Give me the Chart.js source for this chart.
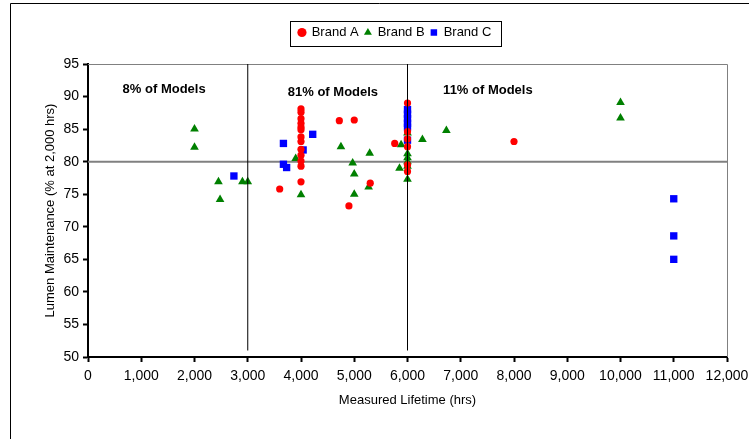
<!DOCTYPE html>
<html>
<head>
<meta charset="utf-8">
<title>Lumen Maintenance vs Measured Lifetime</title>
<script src="https://cdn.jsdelivr.net/npm/chart.js@4.4.1/dist/chart.umd.min.js"></script>
<style>
  html, body { margin: 0; padding: 0; background: #fff; }
  #wrap { width: 749px; height: 439px; }
</style>
</head>
<body>
<div id="wrap"><canvas id="lifeChart" width="749" height="439"></canvas></div>
<script>
// Brand A (red circles)
const brandAX = [3600, 4000, 4000, 4000, 4000, 4000, 4000, 4000, 4000, 4000, 4000, 4000, 4000, 4000,
                 4720, 5000, 4900, 5300, 5760, 6000, 6000, 6000, 6000, 6000, 6000, 8000];
const brandAY = [75.8, 88.1, 87.6, 86.6, 85.9, 85.3, 84.9, 83.8, 83.1, 81.9, 81.0, 80.1, 79.3, 76.9,
                 86.3, 86.4, 73.2, 76.7, 82.8, 89.0, 84.6, 83.5, 82.3, 79.5, 78.5, 83.1];

// Brand B (green triangles)
const brandBX = [2000, 2000, 2450, 2480, 2900, 3000, 3900, 4000, 4750, 4970, 5000, 5000, 5270, 5290,
                 5850, 5880, 6000, 6000, 6000, 6000, 6000, 6000, 6280, 6730, 10000, 10000];
const brandBY = [85.0, 82.2, 76.9, 74.2, 76.9, 76.9, 80.5, 74.9, 82.3, 79.8, 78.1, 75.0, 76.1, 81.3,
                 79.0, 82.6, 84.4, 81.2, 80.6, 80.0, 79.3, 77.3, 83.4, 84.8, 89.1, 86.7];

// Brand C (blue squares)
const brandCX = [2740, 3670, 3670, 3730, 4040, 4220, 6000, 6000, 6000, 6000, 6000, 6000, 11000, 11000, 11000];
const brandCY = [77.8, 82.8, 79.6, 79.1, 81.8, 84.2, 88.0, 87.3, 86.6, 85.9, 85.3, 83.3, 74.3, 68.6, 65.0];

// reference lines
const refLineY = 80;
const dividerX = [3000, 6000];
const dividerY = [51, 95];

// ticks
const xTickValues = [0, 1000, 2000, 3000, 4000, 5000, 6000, 7000, 8000, 9000, 10000, 11000, 12000];
const yTickValues = [50, 55, 60, 65, 70, 75, 80, 85, 90, 95];

// region notes
const noteLabels = ['8% of Models', '81% of Models', '11% of Models'];
const noteX = [1430, 4600, 7510];
const noteY = [91.1, 90.6, 90.9];

const FONT = '"Liberation Sans", Arial, sans-serif';

function toPoints(xs, ys) {
    return xs.map((x, i) => ({ x: x, y: ys[i] }));
}

const chartDecor = {
    id: 'chartDecor',
    beforeInit(chart) {
        // extra room between legend and plot
        const legend = chart.legend;
        const origFit = legend.fit;
        legend.fit = function () {
            origFit.call(legend);
            this.height += 15;
        };
    },
    afterLayout(chart) {
        const l = chart.legend;
        const shift = 395 - (l.left + l.right) / 2;
        l.left += shift;
        l.right += shift;
    },
    beforeDatasetsDraw(chart) {
        const { ctx, chartArea: a } = chart;
        ctx.save();
        ctx.lineWidth = 1;
        ctx.strokeStyle = '#808080';
        ctx.beginPath();
        ctx.moveTo(a.left, a.top + 0.5);
        ctx.lineTo(a.right + 0.5, a.top + 0.5);
        ctx.lineTo(a.right + 0.5, a.bottom);
        ctx.stroke();
        ctx.strokeStyle = '#000';
        ctx.beginPath();
        ctx.moveTo(10.5, chart.height);
        ctx.lineTo(10.5, 3.5);
        ctx.lineTo(chart.width, 3.5);
        ctx.stroke();
        ctx.restore();
    },
    afterDraw(chart) {
        const { ctx, scales } = chart;
        ctx.save();
        ctx.fillStyle = '#000';
        ctx.font = 'bold 13px ' + FONT;
        ctx.textAlign = 'center';
        ctx.textBaseline = 'middle';
        noteLabels.forEach((t, i) => {
            ctx.fillText(t, scales.x.getPixelForValue(noteX[i]), scales.y.getPixelForValue(noteY[i]));
        });

        // box round the legend
        const l = chart.legend;
        const pad = l.options.labels.padding;
        const w = l.lineWidths[0] - pad;
        const x0 = (l.left + pad + l.right - l.lineWidths[0]) / 2;
        const cy = l.top + pad + 7;
        ctx.strokeStyle = '#000';
        ctx.lineWidth = 1;
        ctx.strokeRect(Math.round(x0 - 9) + 0.5, Math.round(cy - 12.5) + 0.5, Math.round(w + 18), 25);
        ctx.restore();
    }
};

function createLifetimeChart() {
    const ctx = document.getElementById('lifeChart');
    if (!ctx) return;

    new Chart(ctx, {
        type: 'scatter',
        data: {
            datasets: [
                {
                    label: 'Brand A',
                    data: toPoints(brandAX, brandAY),
                    pointStyle: 'circle',
                    pointRadius: 3.6,
                    backgroundColor: '#ff0000',
                    borderColor: '#ff0000',
                    borderWidth: 0,
                    order: 5
                },
                {
                    label: 'Brand B',
                    data: toPoints(brandBX, brandBY),
                    pointStyle: 'triangle',
                    pointRadius: 5,
                    backgroundColor: '#008000',
                    borderColor: '#008000',
                    borderWidth: 0,
                    order: 5
                },
                {
                    label: 'Brand C',
                    data: toPoints(brandCX, brandCY),
                    pointStyle: 'rect',
                    pointRadius: 5.2,
                    backgroundColor: '#0000ff',
                    borderColor: '#0000ff',
                    borderWidth: 0,
                    order: 5
                },
                {
                    label: '',
                    data: [{ x: xTickValues[0], y: refLineY }, { x: xTickValues[xTickValues.length - 1], y: refLineY }],
                    showLine: true,
                    pointRadius: 0,
                    borderColor: '#808080',
                    borderWidth: 2,
                    order: 10
                },
                {
                    label: '',
                    data: [{ x: dividerX[0], y: dividerY[0] }, { x: dividerX[0], y: dividerY[1] }],
                    showLine: true,
                    pointRadius: 0,
                    borderColor: '#000',
                    borderWidth: 1,
                    order: 1
                },
                {
                    label: '',
                    data: [{ x: dividerX[1], y: dividerY[0] }, { x: dividerX[1], y: dividerY[1] }],
                    showLine: true,
                    pointRadius: 0,
                    borderColor: '#000',
                    borderWidth: 1,
                    order: 1
                }
            ]
        },
        options: {
            responsive: false,
            animation: false,
            events: [],
            layout: { padding: { left: 10, right: 22, top: 20, bottom: 0 } },
            plugins: {
                tooltip: { enabled: false },
                legend: {
                    position: 'top',
                    labels: {
                        usePointStyle: true,
                        boxWidth: 6.5,
                        boxHeight: 6.5,
                        padding: 6,
                        color: '#000',
                        font: { family: FONT, size: 13 },
                        filter: (item) => item.text !== ''
                    }
                }
            },
            scales: {
                x: {
                    type: 'linear',
                    min: 0,
                    max: 12000,
                    afterFit: (s) => { s.height = 82; s.paddingRight = 0; s.paddingLeft = 0; },
                    afterBuildTicks: (s) => { s.ticks = xTickValues.map(v => ({ value: v })); },
                    border: { color: '#000', width: 2 },
                    grid: { drawOnChartArea: false, drawTicks: true, tickLength: 5, color: '#000', tickWidth: 2 },
                    ticks: {
                        autoSkip: false,
                        maxRotation: 0,
                        padding: 6,
                        color: '#000',
                        font: { family: FONT, size: 14 },
                        callback: (v) => v.toLocaleString('en-US')
                    },
                    title: {
                        display: true,
                        text: 'Measured Lifetime (hrs)',
                        color: '#000',
                        font: { family: FONT, size: 13 },
                        padding: { top: 0, bottom: 31 }
                    }
                },
                y: {
                    type: 'linear',
                    min: 50,
                    max: 95,
                    afterFit: (s) => { s.width = 78; },
                    afterBuildTicks: (s) => { s.ticks = yTickValues.map(v => ({ value: v })); },
                    border: { color: '#000', width: 2 },
                    grid: { drawOnChartArea: false, drawTicks: true, tickLength: 5, color: '#000', tickWidth: 2 },
                    ticks: {
                        padding: 4,
                        color: '#000',
                        font: { family: FONT, size: 14 }
                    },
                    title: {
                        display: true,
                        text: 'Lumen Maintenance (% at 2,000 hrs)',
                        color: '#000',
                        font: { family: FONT, size: 13 },
                        padding: { top: 33, bottom: 0 }
                    }
                }
            }
        },
        plugins: [chartDecor]
    });
}

document.addEventListener('DOMContentLoaded', () => {
    createLifetimeChart();
});
</script>
</body>
</html>
